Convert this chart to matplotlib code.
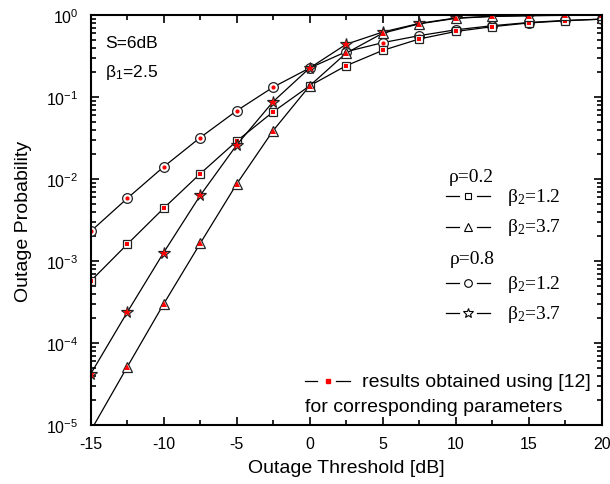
#
# outage probability vs outage threshold, log scale
# open markers = analysis, red filled markers = results from [12]
#

import numpy as np
import matplotlib
matplotlib.use('Agg')
import matplotlib.pyplot as plt
from matplotlib.ticker import MultipleLocator, LogLocator, NullFormatter

plt.rcParams['font.family'] = ['Liberation Sans', 'DejaVu Sans']
plt.rcParams['axes.unicode_minus'] = False

# outage threshold [dB]
thr = [-15, -12.5, -10, -7.5, -5, -2.5, 0, 2.5, 5, 7.5, 10, 12.5, 15, 17.5, 20]

# rho=0.2
p_r02_b12 = [5.7e-4, 1.6e-3, 4.4e-3, 1.16e-2, 2.9e-2, 6.6e-2, 0.137, 0.241,
             0.37, 0.51, 0.63, 0.72, 0.80, 0.85, 0.89]
p_r02_b37 = [8.5e-6, 5.1e-5, 3.0e-4, 1.64e-3, 8.7e-3, 3.9e-2, 0.137, 0.343,
             0.60, 0.78, 0.91, 0.96, 0.98, 0.99, 0.995]
# rho=0.8
p_r08_b12 = [2.3e-3, 5.8e-3, 1.41e-2, 3.2e-2, 6.8e-2, 0.132, 0.226, 0.357,
             0.46, 0.56, 0.66, 0.74, 0.81, 0.86, 0.89]
p_r08_b37 = [4.2e-5, 2.37e-4, 1.27e-3, 6.3e-3, 2.6e-2, 8.8e-2, 0.226, 0.44,
             0.62, 0.79, 0.92, 0.965, 0.985, 0.993, 0.997]

series = [
    # values, marker, open size, red size, skip first marker
    (p_r08_b12, 'o', 7.0, 3.0, False),
    (p_r02_b12, 's', 6.0, 2.6, False),
    (p_r08_b37, '*', 8.5, 6.3, False),
    (p_r02_b37, '^', 7.5, 4.5, True),
]

fig = plt.figure(figsize=(6.10, 4.85), dpi=100)
ax = fig.add_axes([0.1487, 0.1216, 0.8377, 0.8454])

for vals, mk, ms, rs, skip in series:
    me = slice(1, None) if skip else None
    ax.plot(thr, vals, color='black', lw=0.9, marker=mk, ms=ms,
            mfc='white', mec='#222222', mew=0.9, markevery=me)
    ax.plot(thr, vals, ls='none', marker=mk, ms=rs, mfc='red',
            mec='red', mew=0, markevery=me)

ax.set_yscale('log')
ax.set_xlim(-15, 20)
ax.set_ylim(1e-5, 1)

ax.xaxis.set_major_locator(MultipleLocator(5))
ax.xaxis.set_minor_locator(MultipleLocator(2.5))
ax.yaxis.set_major_locator(LogLocator(base=10, numticks=10))
ax.yaxis.set_minor_locator(LogLocator(base=10, subs=np.arange(2, 10), numticks=20))
ax.yaxis.set_minor_formatter(NullFormatter())

ax.tick_params(which='both', direction='in', top=True, right=True,
               labelsize=11.5, width=1.2)
ax.tick_params(which='major', length=6)
ax.tick_params(which='minor', length=3.5)
ax.tick_params(axis='x', pad=8)
ax.tick_params(axis='y', pad=9)
for sp in ax.spines.values():
    sp.set_linewidth(1.5)

ax.set_xlabel('Outage Threshold [dB]', fontsize=14, labelpad=6)
ax.set_ylabel('Outage Probability', fontsize=14, labelpad=10)

# parameter annotations
ax.text(0.028, 0.934, 'S=6dB', transform=ax.transAxes, fontsize=12.5,
        va='center')
ax.text(0.028, 0.862, r'$\mathregular{β_1}$=2.5', transform=ax.transAxes,
        fontsize=12.5, va='center')

# custom legend (Origin style: line - marker - line)
def legend_row(y, mk, ms, color='black', mfc='white', mec='black'):
    ax.plot([0.6955, 0.7215], [y, y], color=color, lw=0.9,
            transform=ax.transAxes, clip_on=False)
    ax.plot([0.7555, 0.7815], [y, y], color=color, lw=0.9,
            transform=ax.transAxes, clip_on=False)
    ax.plot([0.7388], [y], ls='none', marker=mk, ms=ms, mfc=mfc, mec=mec,
            mew=0.8, transform=ax.transAxes, clip_on=False)

serif = dict(family='Liberation Serif', fontsize=14, va='center',
             transform=ax.transAxes)

ax.text(0.700, 0.607, 'ρ=0.2', **serif)
legend_row(0.5585, 's', 5)
ax.text(0.8147, 0.5585, r'$\mathregular{β_2}$=1.2', **serif)
legend_row(0.483, '^', 6)
ax.text(0.8147, 0.483, r'$\mathregular{β_2}$=3.7', **serif)
ax.text(0.703, 0.405, 'ρ=0.8', **serif)
legend_row(0.346, 'o', 5.5)
ax.text(0.8147, 0.346, r'$\mathregular{β_2}$=1.2', **serif)
legend_row(0.273, '*', 7.5)
ax.text(0.8147, 0.273, r'$\mathregular{β_2}$=3.7', **serif)

# red reference legend entry
ax.plot([0.419, 0.442], [0.107, 0.107], color='black', lw=0.9,
        transform=ax.transAxes)
ax.plot([0.481, 0.507], [0.107, 0.107], color='black', lw=0.9,
        transform=ax.transAxes)
ax.plot([0.4651], [0.107], ls='none', marker='s', ms=3, mfc='red', mec='red',
        transform=ax.transAxes)
ax.text(0.531, 0.107, 'results obtained using [12]', transform=ax.transAxes,
        fontsize=14, va='center')
ax.text(0.419, 0.046, 'for corresponding parameters', transform=ax.transAxes,
        fontsize=14, va='center')

fig.savefig('out.png', dpi=100)
plt.close()
